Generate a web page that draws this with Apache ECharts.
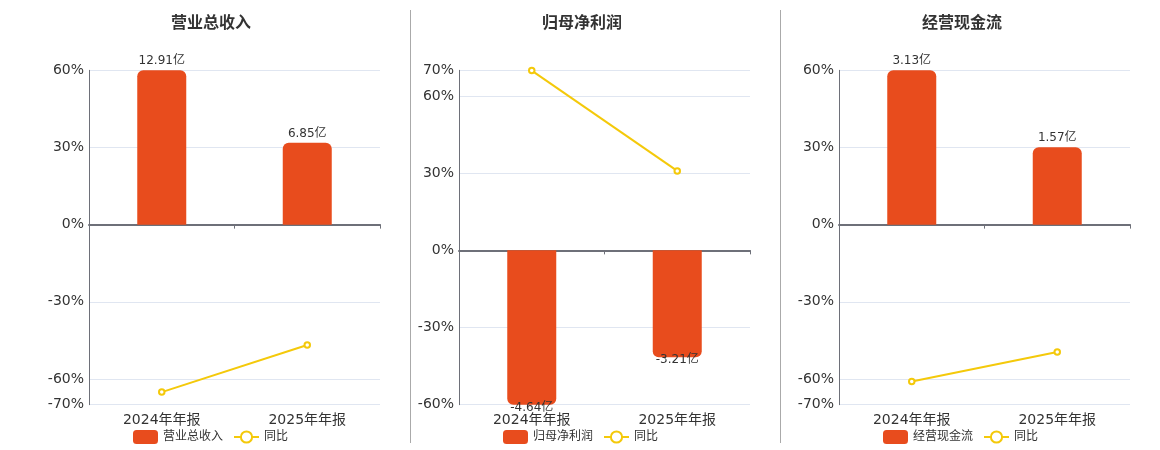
<!DOCTYPE html>
<html>
<head>
<meta charset="utf-8">
<script src="https://cdn.jsdelivr.net/npm/echarts@6/dist/echarts.min.js"></script>
<style>
html,body{margin:0;padding:0;background:#fff;}
#c{width:1160px;height:450px;}
</style>
</head>
<body>
<div id="c"></div>
<script>
const categories = ['2024年年报', '2025年年报'];
const titles = ['营业总收入', '归母净利润', '经营现金流'];
const revenue = [12.91, 6.85];
const revenueYoy = [-65.1, -46.8];
const profit = [-4.64, -3.21];
const profitYoy = [69.9, 30.9];
const cash = [3.13, 1.57];
const cashYoy = [-61.0, -49.5];
const pctMin = [-70, -60, -70];
const pctMax = [60, 70, 60];

const barSets = [revenue, profit, cash];
const yoySets = [revenueYoy, profitYoy, cashYoy];

const BAR = '#E84C1D';
const LINE = '#F4C90A';
const AXIS = '#6E7079';
const TXT = '#333';
const FONT = 'DejaVu Sans, "Noto Sans CJK SC", sans-serif';

const gridLeft = [89, 459, 839];
const titleLeft = [171, 542, 922];
const legendLeft = [133, 503, 883];

const option = {
  animation: false,
  textStyle: { fontFamily: FONT },
  title: [], legend: [], grid: [], xAxis: [], yAxis: [], series: [],
  graphic: [
    { type: 'line', shape: { x1: 410.5, y1: 10, x2: 410.5, y2: 443 }, style: { stroke: '#aaa', lineWidth: 1 } },
    { type: 'line', shape: { x1: 780.5, y1: 10, x2: 780.5, y2: 443 }, style: { stroke: '#aaa', lineWidth: 1 } }
  ]
};

for (let i = 0; i < 3; i++) {
  const bars = barSets[i];
  const k = 60 / Math.max(...bars.map(Math.abs));
  option.title.push({
    text: titles[i], left: titleLeft[i], top: 16, padding: 0,
    textStyle: { fontSize: 16, fontWeight: 'bold', color: TXT, fontFamily: FONT }
  });
  option.legend.push({
    left: legendLeft[i], top: 430, padding: 0, itemWidth: 25, itemHeight: 14, itemGap: 10,
    data: [titles[i], '同比'],
    textStyle: { fontSize: 12, color: TXT, fontFamily: FONT }
  });
  option.grid.push({ left: gridLeft[i], width: 291, top: 70.3, height: 334.4 });
  option.xAxis.push({
    type: 'category', gridIndex: i, data: categories,
    axisLine: { onZero: true, onZeroAxisIndex: 2 * i, lineStyle: { color: AXIS, width: 2 } },
    axisTick: { show: true, length: 4, lineStyle: { color: AXIS } },
    axisLabel: { show: false }, splitLine: { show: false }
  });
  option.xAxis.push({
    type: 'category', gridIndex: i, data: categories, position: 'bottom',
    axisLine: { show: false, onZero: false }, axisTick: { show: false },
    axisLabel: { show: true, fontSize: 14, color: TXT, margin: 9, fontFamily: FONT }
  });
  option.yAxis.push({
    type: 'value', gridIndex: i, min: pctMin[i], max: pctMax[i],
    axisLine: { show: true, lineStyle: { color: AXIS, width: 1 } },
    axisTick: { show: false },
    axisLabel: { formatter: '{value}%', fontSize: 14, color: TXT, margin: 5, padding: [4, 0, 0, 0], fontFamily: FONT },
    splitLine: { show: true, lineStyle: { color: '#E0E6F1' } }
  });
  option.yAxis.push({
    type: 'value', gridIndex: i, min: pctMin[i] / k, max: pctMax[i] / k, show: false,
    splitLine: { show: false }
  });
  option.series.push({
    name: titles[i], type: 'bar', xAxisIndex: 2 * i, yAxisIndex: 2 * i + 1,
    barWidth: 49, itemStyle: { color: BAR },
    data: bars.map(v => ({
      value: v,
      itemStyle: { borderRadius: v >= 0 ? [6, 6, 0, 0] : [0, 0, 6, 6] },
      label: { position: v >= 0 ? 'top' : 'bottom', distance: v >= 0 ? 3 : -3 }
    })),
    label: { show: true, formatter: p => p.value + '亿', fontSize: 12, color: TXT, fontFamily: FONT }
  });
  option.series.push({
    name: '同比', type: 'line', xAxisIndex: 2 * i, yAxisIndex: 2 * i, z: 5,
    symbol: 'emptyCircle', symbolSize: 5.5,
    lineStyle: { color: LINE, width: 2 }, itemStyle: { color: LINE },
    data: yoySets[i]
  });
}

const chart = echarts.init(document.getElementById('c'));
chart.setOption(option);
</script>
</body>
</html>
